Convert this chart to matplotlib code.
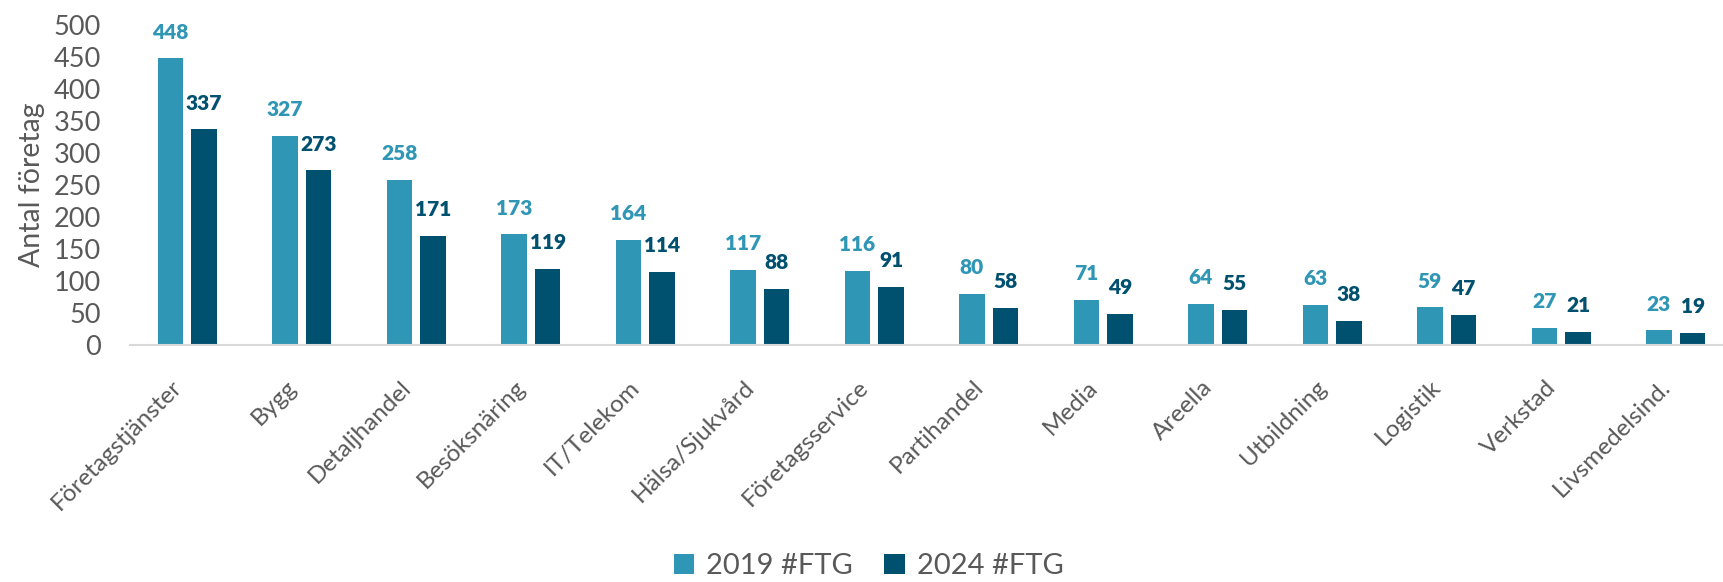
import matplotlib
matplotlib.use("Agg")

import numpy as np
import matplotlib.pyplot as plt
import matplotlib.transforms as mtransforms

plt.rcParams["font.family"] = ["Lato", "DejaVu Sans"]

# Data
categories = ["Företagstjänster", "Bygg", "Detaljhandel", "Besöksnäring", "IT/Telekom",
              "Hälsa/Sjukvård", "Företagsservice", "Partihandel", "Media", "Areella",
              "Utbildning", "Logistik", "Verkstad", "Livsmedelsind."]
ftg_2019 = [448, 327, 258, 173, 164, 117, 116, 80, 71, 64, 63, 59, 27, 23]
ftg_2024 = [337, 273, 171, 119, 114, 88, 91, 58, 49, 55, 38, 47, 21, 19]
series_labels = ["2019 #FTG", "2024 #FTG"]

col_2019 = "#3096B5"
col_2024 = "#00506F"
grey = "#595959"

fig = plt.figure(figsize=(17.23, 5.82), dpi=100)
ax = fig.add_axes([130 / 1723, 1 - 345 / 582, 1603 / 1723, 320 / 582])

x = np.arange(len(categories))
w = 0.223
off = 0.147
b1 = ax.bar(x - off, ftg_2019, w, color=col_2019, label=series_labels[0])
b2 = ax.bar(x + off, ftg_2024, w, color=col_2024, label=series_labels[1])

for bars, vals, c in [(b1, ftg_2019, col_2019), (b2, ftg_2024, col_2024)]:
    for rect, v in zip(bars, vals):
        ax.annotate(str(v), (rect.get_x() + rect.get_width() / 2, v),
                    xytext=(0, 12), textcoords="offset points",
                    ha="center", va="bottom", fontsize=15, fontweight="heavy", color=c)

ax.set_xlim(-0.5, len(categories) - 0.5)
ax.set_ylim(0, 500)
ax.set_yticks(np.arange(0, 501, 50))
ax.set_xticks(x)
ax.set_xticklabels(categories, rotation=45, ha="right", va="center",
                   rotation_mode="anchor", fontsize=17.5, color=grey)
ax.tick_params(axis="y", length=0, pad=21, labelsize=19.5, labelcolor=grey)
ax.tick_params(axis="x", length=0, pad=28)

# nudge category labels a little to the left, like the original
shift = mtransforms.ScaledTranslation(-9 / 100, 0, fig.dpi_scale_trans)
for lbl in ax.get_xticklabels():
    lbl.set_transform(lbl.get_transform() + shift)

ax.set_ylabel("Antal företag", fontsize=20.5, color=grey, labelpad=6)

for s in ["top", "right", "left"]:
    ax.spines[s].set_visible(False)
ax.spines["bottom"].set_color("#D9D9D9")
ax.spines["bottom"].set_linewidth(1.5)

fig.legend(loc="center", bbox_to_anchor=(0.504, 0.027), ncol=2, frameon=False,
           fontsize=21, handlelength=0.7, handleheight=0.7, handletextpad=0.4,
           columnspacing=1.1, labelcolor=grey)

fig.savefig("out.png", dpi=100)
plt.close(fig)
